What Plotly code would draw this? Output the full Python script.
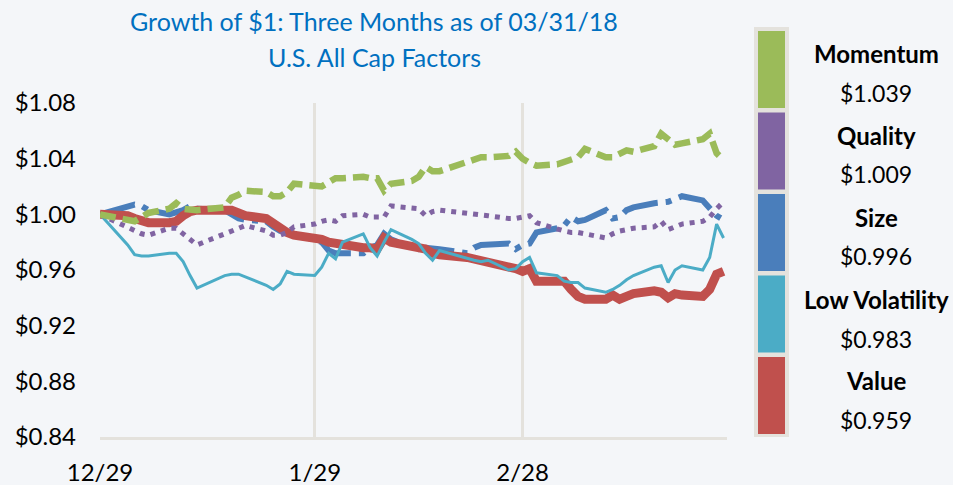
import plotly.graph_objects as go

dates = [
    "2017-12-29",
    "2018-01-02", "2018-01-03", "2018-01-04", "2018-01-05",
    "2018-01-08", "2018-01-09", "2018-01-10", "2018-01-11", "2018-01-12",
    "2018-01-16", "2018-01-17", "2018-01-18", "2018-01-19",
    "2018-01-22", "2018-01-23", "2018-01-24", "2018-01-25", "2018-01-26",
    "2018-01-29", "2018-01-30", "2018-01-31", "2018-02-01", "2018-02-02",
    "2018-02-05", "2018-02-06", "2018-02-07", "2018-02-08", "2018-02-09",
    "2018-02-12", "2018-02-13", "2018-02-14", "2018-02-15", "2018-02-16",
    "2018-02-20", "2018-02-21", "2018-02-22", "2018-02-23",
    "2018-02-26", "2018-02-27", "2018-02-28", "2018-03-01", "2018-03-02",
    "2018-03-05", "2018-03-06", "2018-03-07", "2018-03-08", "2018-03-09",
    "2018-03-12", "2018-03-13", "2018-03-14", "2018-03-15", "2018-03-16",
    "2018-03-19", "2018-03-20", "2018-03-21", "2018-03-22", "2018-03-23",
    "2018-03-26", "2018-03-27", "2018-03-28", "2018-03-29",
]

momentum = [
    1.000,
    0.996, 0.995, 0.998, 1.001,
    1.004, 1.008, 1.004, 1.003, 1.003,
    1.005, 1.012, 1.014, 1.017,
    1.016, 1.013, 1.013, 1.016, 1.022,
    1.020, 1.020, 1.023, 1.026, 1.026,
    1.027, 1.026, 1.026, 1.017, 1.022,
    1.024, 1.027, 1.034, 1.031, 1.031,
    1.037, 1.039, 1.041, 1.041,
    1.042, 1.045, 1.040, 1.037, 1.035,
    1.036, 1.038, 1.040, 1.041, 1.047,
    1.041, 1.041, 1.043, 1.046, 1.045,
    1.049, 1.058, 1.054, 1.050, 1.051,
    1.054, 1.058, 1.044, 1.039,
]

quality = [
    1.000,
    0.991, 0.988, 0.986, 0.985,
    0.990, 0.990, 0.986, 0.981, 0.978,
    0.986, 0.988, 0.990, 0.992,
    0.988, 0.985, 0.985, 0.987, 0.991,
    0.993, 0.995, 0.996, 0.995, 0.999,
    1.000, 0.998, 0.998, 0.998, 1.006,
    1.005, 1.004, 0.999, 1.002, 1.003,
    1.001, 1.000, 1.000, 0.999,
    0.997, 0.997, 0.998, 0.999, 0.994,
    0.989, 0.988, 0.987, 0.987, 0.986,
    0.983, 0.986, 0.988, 0.989, 0.990,
    0.991, 0.995, 0.989, 0.991, 0.993,
    0.995, 0.998, 1.004, 1.009,
]

size = [
    1.000,
    1.005, 1.007, 1.006, 1.003,
    1.000, 1.001, 1.003, 1.006, 1.004,
    1.003, 1.000, 0.997, 0.996,
    0.995, 0.991, 0.988, 0.987, 0.985,
    0.982, 0.980, 0.974, 0.972, 0.972,
    0.972, 0.976, 0.978, 0.986, 0.982,
    0.976, 0.975, 0.976, 0.976, 0.975,
    0.972, 0.976, 0.978, 0.978,
    0.979, 0.975, 0.978, 0.979, 0.987,
    0.990, 0.992, 0.998, 0.995, 0.996,
    1.003, 0.997, 0.998, 1.003, 1.005,
    1.008, 1.008, 1.009, 1.011, 1.013,
    1.010, 1.005, 0.999, 0.996,
]

low_volatility = [
    1.000,
    0.978, 0.971, 0.970, 0.970,
    0.972, 0.972, 0.966, 0.956, 0.947,
    0.956, 0.957, 0.957, 0.955,
    0.949, 0.946, 0.950, 0.959, 0.957,
    0.956, 0.962, 0.972, 0.968, 0.980,
    0.986, 0.976, 0.970, 0.980, 0.989,
    0.982, 0.979, 0.972, 0.967, 0.974,
    0.968, 0.967, 0.966, 0.967,
    0.960, 0.961, 0.966, 0.969, 0.958,
    0.956, 0.952, 0.951, 0.951, 0.947,
    0.944, 0.946, 0.949, 0.953, 0.956,
    0.962, 0.963, 0.951, 0.960, 0.963,
    0.960, 0.969, 0.993, 0.983,
]

value = [
    1.000,
    0.999, 0.997, 0.995, 0.994,
    0.994, 0.995, 0.999, 1.002, 1.003,
    1.004, 1.003, 1.001, 0.999,
    0.997, 0.993, 0.990, 0.987, 0.985,
    0.983, 0.982, 0.980, 0.979, 0.978,
    0.976, 0.976, 0.975, 0.983, 0.980,
    0.977, 0.976, 0.975, 0.972, 0.971,
    0.969, 0.968, 0.966, 0.965,
    0.963, 0.961, 0.959, 0.961, 0.952,
    0.953, 0.952, 0.946, 0.941, 0.939,
    0.939, 0.942, 0.939, 0.941, 0.943,
    0.945, 0.944, 0.940, 0.943, 0.942,
    0.941, 0.946, 0.957, 0.959,
]

series_names = ["Momentum", "Quality", "Size", "Low Volatility", "Value"]
series_values = [momentum, quality, size, low_volatility, value]
series_colors = ["#9BBB59", "#8064A2", "#4A7EBB", "#4BACC6", "#C0504D"]

y_tick_vals = [0.84, 0.88, 0.92, 0.96, 1.00, 1.04, 1.08]
x_tick_vals = ["2017-12-29", "2018-01-29", "2018-02-28"]
x_tick_text = ["12/29", "1/29", "2/28"]

title_line1 = "Growth of $1: Three Months as of 03/31/18"
title_line2 = "U.S. All Cap Factors"

FONT = "Lato, 'Open Sans', sans-serif"
BG = "#F4F6F9"
GRID = "#E4E2DD"

styles = {
    "Momentum": dict(width=6.5, dash="16px,7px"),
    "Quality": dict(width=5, dash="5px,6px"),
    "Size": dict(width=6, dash="36px,8px,6px,8px"),
    "Low Volatility": dict(width=3, dash="solid"),
    "Value": dict(width=9, dash="solid"),
}
draw_order = ["Size", "Value", "Low Volatility", "Quality", "Momentum"]

fig = go.Figure()
for name in draw_order:
    i = series_names.index(name)
    st = styles[name]
    fig.add_trace(go.Scatter(
        x=dates, y=series_values[i], mode="lines", name=name,
        line=dict(color=series_colors[i], width=st["width"], dash=st["dash"]),
        showlegend=False,
    ))

W, H = 953, 485
L, R, T, B = 100, 226, 103, 48
pw, ph = W - L - R, H - T - B

def px(xp):
    return (xp - L) / pw

def py(yp):
    return (H - B - yp) / ph

shapes = []
annotations = []

# legend column frame
shapes.append(dict(type="rect", xref="paper", yref="paper",
                   x0=px(754), x1=px(789), y0=py(437), y1=py(27),
                   fillcolor=GRID, line=dict(width=0), layer="above"))
box_top = 31
box_h = 77
box_gap = 4.5
text_y = [(53, 93), (135, 174), (217, 256), (299, 339), (380, 420)]
for i, name in enumerate(series_names):
    y0 = box_top + i * (box_h + box_gap)
    shapes.append(dict(type="rect", xref="paper", yref="paper",
                       x0=px(758), x1=px(785), y0=py(y0 + box_h), y1=py(y0),
                       fillcolor=series_colors[i], line=dict(width=0), layer="above"))
    ty1, ty2 = text_y[i]
    annotations.append(dict(xref="paper", yref="paper", x=px(876), y=py(ty1),
                            text="<b>" + name + "</b>", showarrow=False,
                            xanchor="center", yanchor="middle",
                            font=dict(family=FONT, size=24, color="#000000")))
    annotations.append(dict(xref="paper", yref="paper", x=px(876), y=py(ty2),
                            text="$%.3f" % series_values[i][-1], showarrow=False,
                            xanchor="center", yanchor="middle",
                            font=dict(family=FONT, size=23, color="#000000")))

# title lines
annotations.append(dict(xref="paper", yref="paper", x=px(374), y=py(21),
                        text=title_line1, showarrow=False, xanchor="center", yanchor="middle",
                        font=dict(family=FONT, size=25, color="#0070C0")))
annotations.append(dict(xref="paper", yref="paper", x=px(374), y=py(57),
                        text=title_line2, showarrow=False, xanchor="center", yanchor="middle",
                        font=dict(family=FONT, size=25, color="#0070C0")))

fig.update_layout(
    width=W, height=H,
    margin=dict(l=L, r=R, t=T, b=B, pad=0, autoexpand=False),
    paper_bgcolor=BG, plot_bgcolor=BG,
    font=dict(family=FONT, size=24, color="#000000"),
    shapes=shapes, annotations=annotations,
    showlegend=False,
)
fig.update_xaxes(
    type="date", range=["2017-12-29", "2018-03-29 12:00"],
    tickmode="array", tickvals=x_tick_vals, ticktext=x_tick_text,
    showgrid=True, gridcolor=GRID, gridwidth=3,
    showline=True, linecolor=GRID, linewidth=3,
    ticks="", ticklabelstandoff=12, zeroline=False, automargin=False,
    tickfont=dict(family=FONT, size=24, color="#000000"),
)
fig.update_yaxes(
    range=[0.84, 1.08], tickmode="array", tickvals=y_tick_vals,
    tickformat="$.2f", showgrid=False, zeroline=False, showline=False,
    ticks="", ticklabelstandoff=23, automargin=False,
    tickfont=dict(family=FONT, size=24, color="#000000"),
)

fig.write_html(
    "out.html",
    config={"displayModeBar": False},
    post_script="document.body.style.margin='0';document.body.style.background='" + BG + "';",
)
